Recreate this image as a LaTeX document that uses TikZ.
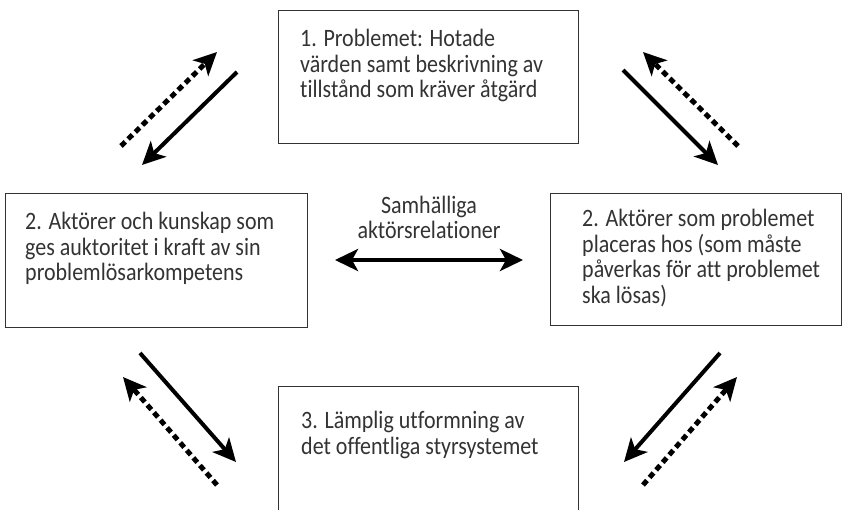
\documentclass[tikz,border=0pt]{standalone}
\usepackage{fontspec}
\setmainfont{Carlito}[FakeStretch=0.88,Ligatures=NoCommon]
\usetikzlibrary{arrows.meta,positioning}

\begin{document}
\begin{tikzpicture}[
    x=1pt,y=-1pt,
    box/.style={
      draw=black!80,line width=1.2pt,rectangle,anchor=north west,inner sep=0pt
    },
    boxtext/.style={
      font=\fontsize{25}{25.5}\selectfont,align=left,inner sep=0pt,text=black!80
    },
    flow/.style={
      line width=4pt,-{Stealth[length=23pt,width=22pt,inset=6pt]}
    },
    feedback/.style={
      flow,line width=5pt,dash pattern=on 6pt off 4pt
    }]
      \useasboundingbox (0,0) rectangle (843,509);
      \clip (0,0) rectangle (843,509);

      \node[box,minimum width=300pt,minimum height=133pt] (problem) at (278,10) {};
      \node[box,minimum width=302pt,minimum height=134pt] (experts) at (5,193) {};
      \node[box,minimum width=291pt,minimum height=132pt] (targets) at (550,193) {};
      \node[box,minimum width=300pt,minimum height=160pt] (design) at (278,386) {};

      \node[boxtext,below right=19pt and 22pt of problem.north west]
        {1. Problemet: Hotade\\värden samt beskrivning av\\tillstånd som kräver åtgärd};
      \node[boxtext,below right=19pt and 20pt of experts.north west]
        {2. Aktörer och kunskap som\\ges auktoritet i kraft av sin\\problemlösarkompetens};
      \node[boxtext,below right=16pt and 32pt of targets.north west]
        {2. Aktörer som problemet\\placeras hos (som måste\\påverkas för att problemet\\ska lösas)};
      \node[boxtext,below right=25pt and 23pt of design.north west]
        {3. Lämplig utformning av\\det offentliga styrsystemet};

      \coordinate (relleft) at (335,260);
      \coordinate (relright) at (523,260);
      \draw[flow,{Stealth[length=23pt,width=22pt,inset=6pt]}-{Stealth[length=23pt,width=22pt,inset=6pt]}] (relleft) -- (relright);
      \node[boxtext,align=center,anchor=south] (relations) at (429,239)
        {Samhälliga\\aktörsrelationer};

      \coordinate (nwfrom) at (237,72);   \coordinate (nwto) at (142,165);
      \coordinate (nwback) at (121,146);  \coordinate (nwbackto) at (217,52);
      \coordinate (nefrom) at (623,70);   \coordinate (neto) at (718,165);
      \coordinate (neback) at (738,146);  \coordinate (nebackto) at (643,52);
      \coordinate (swfrom) at (140,353);  \coordinate (swto) at (236,462);
      \coordinate (swback) at (217,485);  \coordinate (swbackto) at (123,377);
      \coordinate (sefrom) at (720,353);  \coordinate (seto) at (624,462);
      \coordinate (seback) at (643,485);  \coordinate (sebackto) at (737,377);

      \foreach \corner in {nw,ne,sw,se} {
        \draw[flow] (\corner from) -- (\corner to);
        \draw[feedback] (\corner back) -- (\corner backto);
      }
  \end{tikzpicture}
\end{document}
